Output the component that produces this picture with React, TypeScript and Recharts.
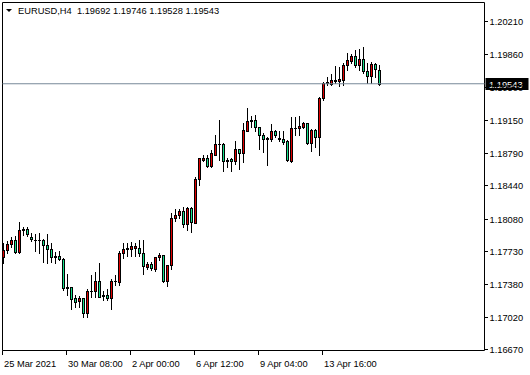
import React from 'react';
import { ComposedChart, Bar, XAxis, YAxis, ReferenceLine, ReferenceArea } from 'recharts';

const symbol = 'EURUSD,H4';

const opens = [
  1.17673, 1.17749, 1.17814, 1.17862, 1.17727, 1.17965, 1.17972, 1.17886, 1.17862, 1.17857,
  1.17862, 1.17800, 1.17763, 1.17670, 1.17684, 1.17655, 1.17339, 1.17344, 1.17231, 1.17195,
  1.17231, 1.17066, 1.17303, 1.17306, 1.17417, 1.17252, 1.17266, 1.17231, 1.17411, 1.17405,
  1.17713, 1.17763, 1.17763, 1.17765, 1.17770, 1.17720, 1.17569, 1.17594, 1.17540, 1.17668,
  1.17692, 1.17417, 1.17582, 1.18089, 1.18123, 1.18166, 1.18024, 1.18202, 1.18044, 1.18512,
  1.18720, 1.18739, 1.18655, 1.18777, 1.18893, 1.18888, 1.18713, 1.18731, 1.18706, 1.18836,
  1.18792, 1.19037, 1.19138, 1.19152, 1.19073, 1.18993, 1.18958, 1.18950, 1.19030, 1.18958,
  1.18950, 1.18928, 1.18713, 1.19062, 1.19069, 1.19080, 1.19116, 1.18900, 1.19044, 1.18965,
  1.19386, 1.19548, 1.19540, 1.19578, 1.19576, 1.19584, 1.19742, 1.19792, 1.19843, 1.19749,
  1.19807, 1.19678, 1.19627, 1.19756, 1.19692,
];
const highs = [
  1.17824, 1.17841, 1.17889, 1.17900, 1.18046, 1.18002, 1.17994, 1.17927, 1.17921, 1.17935,
  1.17864, 1.17921, 1.17821, 1.17727, 1.17735, 1.17662, 1.17490, 1.17346, 1.17260, 1.17252,
  1.17233, 1.17331, 1.17482, 1.17511, 1.17612, 1.17310, 1.17325, 1.17433, 1.17479, 1.17735,
  1.17821, 1.17828, 1.17835, 1.17828, 1.17857, 1.17857, 1.17619, 1.17619, 1.17676, 1.17716,
  1.17695, 1.17586, 1.18143, 1.18186, 1.18195, 1.18208, 1.18213, 1.18216, 1.18533, 1.18742,
  1.18771, 1.18771, 1.18828, 1.18993, 1.19152, 1.18907, 1.18742, 1.18739, 1.18928, 1.18842,
  1.19116, 1.19278, 1.19195, 1.19209, 1.19076, 1.19015, 1.18972, 1.19109, 1.19044, 1.19037,
  1.19030, 1.18936, 1.19181, 1.19181, 1.19195, 1.19130, 1.19120, 1.19052, 1.19052, 1.19395,
  1.19565, 1.19619, 1.19648, 1.19735, 1.19727, 1.19770, 1.19872, 1.19864, 1.19907, 1.19915,
  1.19943, 1.19770, 1.19778, 1.19770, 1.19746,
];
const lows = [
  1.17608, 1.17716, 1.17781, 1.17716, 1.17720, 1.17911, 1.17900, 1.17849, 1.17741, 1.17720,
  1.17619, 1.17605, 1.17619, 1.17612, 1.17641, 1.17317, 1.17266, 1.17109, 1.17130, 1.17130,
  1.17029, 1.17029, 1.17245, 1.17245, 1.17238, 1.17209, 1.17209, 1.17115, 1.17371, 1.17376,
  1.17657, 1.17684, 1.17679, 1.17684, 1.17684, 1.17490, 1.17547, 1.17533, 1.17525, 1.17641,
  1.17403, 1.17360, 1.17549, 1.18067, 1.18089, 1.17994, 1.17965, 1.17943, 1.18037, 1.18454,
  1.18706, 1.18641, 1.18641, 1.18771, 1.18720, 1.18605, 1.18648, 1.18605, 1.18677, 1.18620,
  1.18702, 1.19030, 1.19080, 1.19030, 1.18842, 1.18807, 1.18669, 1.18928, 1.18972, 1.18922,
  1.18893, 1.18713, 1.18699, 1.18987, 1.18987, 1.19066, 1.18893, 1.18821, 1.18857, 1.18777,
  1.19368, 1.19530, 1.19527, 1.19548, 1.19519, 1.19533, 1.19692, 1.19764, 1.19727, 1.19692,
  1.19662, 1.19554, 1.19554, 1.19619, 1.19528,
];
const closes = [
  1.17749, 1.17814, 1.17862, 1.17727, 1.17965, 1.17972, 1.17921, 1.17864, 1.17857, 1.17862,
  1.17800, 1.17763, 1.17670, 1.17684, 1.17655, 1.17339, 1.17344, 1.17223, 1.17188, 1.17231,
  1.17066, 1.17303, 1.17310, 1.17417, 1.17245, 1.17258, 1.17231, 1.17411, 1.17409, 1.17720,
  1.17763, 1.17767, 1.17789, 1.17789, 1.17720, 1.17571, 1.17594, 1.17551, 1.17670, 1.17692,
  1.17417, 1.17584, 1.18091, 1.18123, 1.18166, 1.18024, 1.18202, 1.18046, 1.18512, 1.18739,
  1.18739, 1.18655, 1.18799, 1.18893, 1.18888, 1.18713, 1.18717, 1.18706, 1.18836, 1.18792,
  1.19044, 1.19138, 1.19149, 1.19073, 1.18987, 1.18950, 1.18952, 1.19030, 1.18987, 1.18947,
  1.18914, 1.18720, 1.19062, 1.19069, 1.19087, 1.19116, 1.18900, 1.19044, 1.18965, 1.19386,
  1.19554, 1.19565, 1.19584, 1.19584, 1.19589, 1.19749, 1.19799, 1.19843, 1.19749, 1.19807,
  1.19678, 1.19627, 1.19756, 1.19699, 1.19543,
];

const timeTickIndex = [0, 16, 32, 48, 64, 80];
const timeTickLabels = ['25 Mar 2021', '30 Mar 08:00', '2 Apr 00:00', '6 Apr 12:00', '9 Apr 04:00', '13 Apr 16:00'];
const priceTicks = [1.1667, 1.1702, 1.1738, 1.1773, 1.1808, 1.1844, 1.1879, 1.1915, 1.195, 1.1986, 1.2021];

const X_DOMAIN: [number, number] = [-0.25, 120.25];
const Y_DOMAIN: [number, number] = [1.16664, 1.2042];

const RED = '#E00000';
const GREEN = '#14E08A';
const FONT = '"Liberation Sans", Arial, sans-serif';
const FS = 9.3;

const data = opens.map((o, i) => ({ i, open: o, high: highs[i], low: lows[i], close: closes[i] }));
const last = data[data.length - 1];

const Candle = (props: any) => {
  const { x, y, width, height, payload } = props;
  if (x == null || y == null || !payload) return null;
  const { open, close, high, low } = payload;
  const top = Math.min(y, y + height);
  const bot = Math.max(y, y + height);
  const cx = Math.floor(x + width / 2) + 0.5;
  const span = high - low;
  const k = span > 0 ? (bot - top) / span : 0;
  const yO = top + (high - open) * k;
  const yC = top + (high - close) * k;
  const up = close >= open;
  const bt = Math.round(Math.min(yO, yC));
  const bb = Math.round(Math.max(yO, yC));
  const wt = Math.round(top);
  const wb = Math.round(bot);
  return (
    <g>
      <line x1={cx} x2={cx} y1={wt} y2={wb + 1} stroke="#000" strokeWidth={1} />
      {bb - bt >= 1 ? (
        <rect x={cx - 1} y={bt + 0.5} width={2} height={bb - bt} fill={up ? RED : GREEN} stroke="#000" strokeWidth={1} />
      ) : (
        <line x1={cx - 1.5} x2={cx + 1.5} y1={bt + 0.5} y2={bt + 0.5} stroke="#000" strokeWidth={1} />
      )}
    </g>
  );
};

const XTick = (p: any) => {
  const { x, y, payload } = p;
  const idx = timeTickIndex.indexOf(payload.value);
  const xx = Math.floor(x) - 0.5;
  return (
    <g>
      <line x1={xx} x2={xx} y1={y} y2={y + 4.5} stroke="#000" strokeWidth={1} />
      <text x={xx + 1.5} y={y + 16} fontSize={FS} fontFamily={FONT} fill="#000" textAnchor="start">
        {idx >= 0 ? timeTickLabels[idx] : ''}
      </text>
    </g>
  );
};

const YTick = (p: any) => {
  const { x, y, payload } = p;
  const yy = Math.round(y - 0.5) + 0.5;
  return (
    <g>
      <line x1={x} x2={x + 3.5} y1={yy} y2={yy} stroke="#000" strokeWidth={1} />
      <text x={x + 5} y={yy + 3.4} fontSize={FS} fontFamily={FONT} fill="#000" textAnchor="start">
        {Number(payload.value).toFixed(5)}
      </text>
    </g>
  );
};

const PriceTag = (props: any) => {
  const vb = props.viewBox || {};
  const yy = Math.round(vb.y ?? 0);
  const xr = (vb.x ?? 0) + (vb.width ?? 0);
  return (
    <g>
      <rect x={xr + 1} y={yy - 6} width={43} height={12} fill="#000" />
      <text x={xr + 4.5} y={yy + 3.5} fontSize={FS} fontFamily={FONT} fill="#fff" textAnchor="start">
        {last.close.toFixed(5)}
      </text>
    </g>
  );
};

export default function App() {
  const title = `${last.open.toFixed(5)} ${last.high.toFixed(5)} ${last.low.toFixed(5)} ${last.close.toFixed(5)}`;
  return (
    <div style={{ position: 'absolute', left: 0, top: 0, width: 530, height: 375, background: '#fff', fontFamily: FONT }}>
      <ComposedChart width={530} height={375} data={data} margin={{ top: 2.5, right: 0, bottom: 0, left: 2.5 }}>
        <XAxis
          dataKey="i"
          type="number"
          domain={X_DOMAIN}
          allowDataOverflow
          ticks={timeTickIndex}
          interval={0}
          tick={<XTick />}
          tickLine={false}
          axisLine={false}
          tickSize={0}
          tickMargin={0}
          height={24.5}
        />
        <YAxis
          type="number"
          orientation="right"
          domain={Y_DOMAIN}
          allowDataOverflow
          ticks={priceTicks}
          interval={0}
          tick={<YTick />}
          tickLine={false}
          axisLine={false}
          tickSize={0}
          tickMargin={0}
          width={45.5}
        />
        <ReferenceArea x1={X_DOMAIN[0]} x2={X_DOMAIN[1]} y1={Y_DOMAIN[0]} y2={Y_DOMAIN[1]} fill="none" stroke="#000" strokeWidth={1} fillOpacity={0} ifOverflow="visible" />
        <ReferenceLine y={last.close} stroke="#778899" strokeWidth={1} label={<PriceTag />} />
        <Bar dataKey={(d: any) => [d.low, d.high]} barSize={3} shape={<Candle />} isAnimationActive={false} />
      </ComposedChart>
      <svg width={530} height={20} style={{ position: 'absolute', left: 0, top: 0, pointerEvents: 'none' }}>
        <polygon points="6,9 12,9 9,12" fill="#000" />
        <text x={18} y={14} fontSize={FS} fontFamily={FONT} fill="#000" xmlSpace="preserve">
          {`${symbol}  ${title}`}
        </text>
      </svg>
    </div>
  );
}
